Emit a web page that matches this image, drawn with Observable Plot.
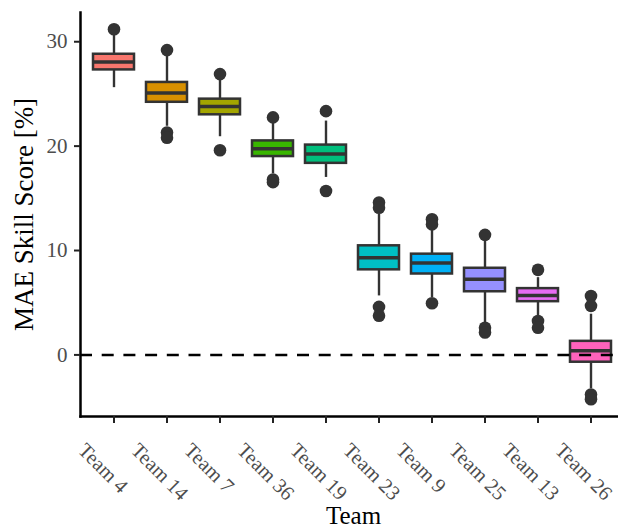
<!DOCTYPE html>
<html>
<head>
<meta charset="utf-8">
<script src="https://cdn.jsdelivr.net/npm/d3@7"></script>
<script src="https://cdn.jsdelivr.net/npm/@observablehq/plot@0.6"></script>
<style>
  html, body { margin: 0; padding: 0; background: #fff; overflow: hidden; }
  #chart svg { display: block; overflow: visible; }
</style>
</head>
<body>
<div id="chart"></div>
<script>
const teams = ["Team 4","Team 14","Team 7","Team 36","Team 19","Team 23","Team 9","Team 25","Team 13","Team 26"];
const q1 = [27.3, 24.2, 23.0, 19.0, 18.35, 8.15, 7.75, 6.05, 5.1, -0.7];
const median = [28.05, 25.1, 23.8, 19.75, 19.25, 9.3, 8.8, 7.25, 5.7, 0.4];
const q3 = [28.8, 26.1, 24.5, 20.5, 20.1, 10.45, 9.65, 8.3, 6.35, 1.3];
const whiskerLow = [25.6, 21.9, 20.9, 17.35, 17.0, 5.65, 5.5, 3.1, 3.75, -3.25];
const whiskerHigh = [30.7, 28.7, 26.3, 22.3, 22.4, 13.5, 12.0, 10.9, 7.4, 3.9];
const outlierTeam = [
  "Team 4",
  "Team 14","Team 14","Team 14",
  "Team 7","Team 7",
  "Team 36","Team 36","Team 36",
  "Team 19","Team 19",
  "Team 23","Team 23","Team 23","Team 23",
  "Team 9","Team 9","Team 9",
  "Team 25","Team 25","Team 25",
  "Team 13","Team 13","Team 13",
  "Team 26","Team 26","Team 26","Team 26"
];
const outlierValue = [
  31.2,
  29.2, 21.3, 20.8,
  26.9, 19.6,
  22.75, 16.8, 16.55,
  23.35, 15.7,
  14.6, 14.1, 4.6, 3.75,
  13.0, 12.5, 4.95,
  11.5, 2.6, 2.15,
  8.15, 3.25, 2.6,
  5.65, 4.7, -3.8, -4.25
];
const colors = ["#F8766D","#D89000","#A3A500","#39B600","#00BF7D","#00BFC4","#00B0F6","#9590FF","#E76BF3","#FF62BC"];
const yTicks = [0, 10, 20, 30];

const boxes = teams.map((t, i) => ({team: t, q1: q1[i], med: median[i], q3: q3[i], lo: whiskerLow[i], hi: whiskerHigh[i], color: colors[i]}));
const outliers = outlierTeam.map((t, i) => ({team: t, value: outlierValue[i]}));

const font = "'Liberation Serif', 'Times New Roman', serif";
const dark = "#333333";

const chart = Plot.plot({
  width: 618,
  height: 527,
  marginTop: 12,
  marginBottom: 111,
  marginLeft: 80,
  marginRight: 0,
  style: {fontFamily: font, background: "white"},
  x: {type: "band", domain: teams, range: [80, 624], paddingInner: 0.23, paddingOuter: 0.215, axis: null},
  y: {domain: [-5.9, 32.8], axis: null},
  marks: [
    Plot.ruleX(boxes, {x: "team", y1: "lo", y2: "q1", stroke: dark, strokeWidth: 2.4}),
    Plot.ruleX(boxes, {x: "team", y1: "q3", y2: "hi", stroke: dark, strokeWidth: 2.4}),
    Plot.dot(outliers, {x: "team", y: "value", r: 6.3, fill: dark, stroke: "none"}),
    Plot.barY(boxes, {x: "team", y1: "q1", y2: "q3", fill: d => d.color, stroke: dark, strokeWidth: 2.5}),
    Plot.tickY(boxes, {x: "team", y: "med", stroke: dark, strokeWidth: 3.5}),
    Plot.ruleY([0], {stroke: "black", strokeWidth: 2.5, strokeDasharray: "12,9.7"}),
    // axis lines
    Plot.frame({anchor: "left", stroke: "black", strokeWidth: 2.5}),
    Plot.frame({anchor: "bottom", stroke: "black", strokeWidth: 2.5}),
    // y ticks and labels
    Plot.axisY({ticks: yTicks, tickSize: 6, tickPadding: 7, strokeWidth: 2, stroke: "#222", fill: "#4d4d4d", fontSize: 21, label: null, tickFormat: d => String(d)}),
    // x ticks
    Plot.axisX({tickSize: 7, strokeWidth: 2, stroke: "#222", tickFormat: () => "", label: null}),
    // x tick labels
    Plot.text(teams, {x: d => d, frameAnchor: "bottom", rotate: 45, textAnchor: "start", lineAnchor: "bottom", dx: -37, dy: 35, fontSize: 20.5, fill: "#4d4d4d", text: d => d}),
    // axis titles
    Plot.text(["MAE Skill Score [%]"], {frameAnchor: "left", rotate: -90, textAnchor: "middle", lineAnchor: "bottom", dx: -48, fontSize: 27, fill: "black"}),
    Plot.text(["Team"], {frameAnchor: "bottom", textAnchor: "middle", lineAnchor: "bottom", dx: 4, dy: 107, fontSize: 25, fill: "black"})
  ]
});
document.getElementById("chart").appendChild(chart);
</script>
</body>
</html>
